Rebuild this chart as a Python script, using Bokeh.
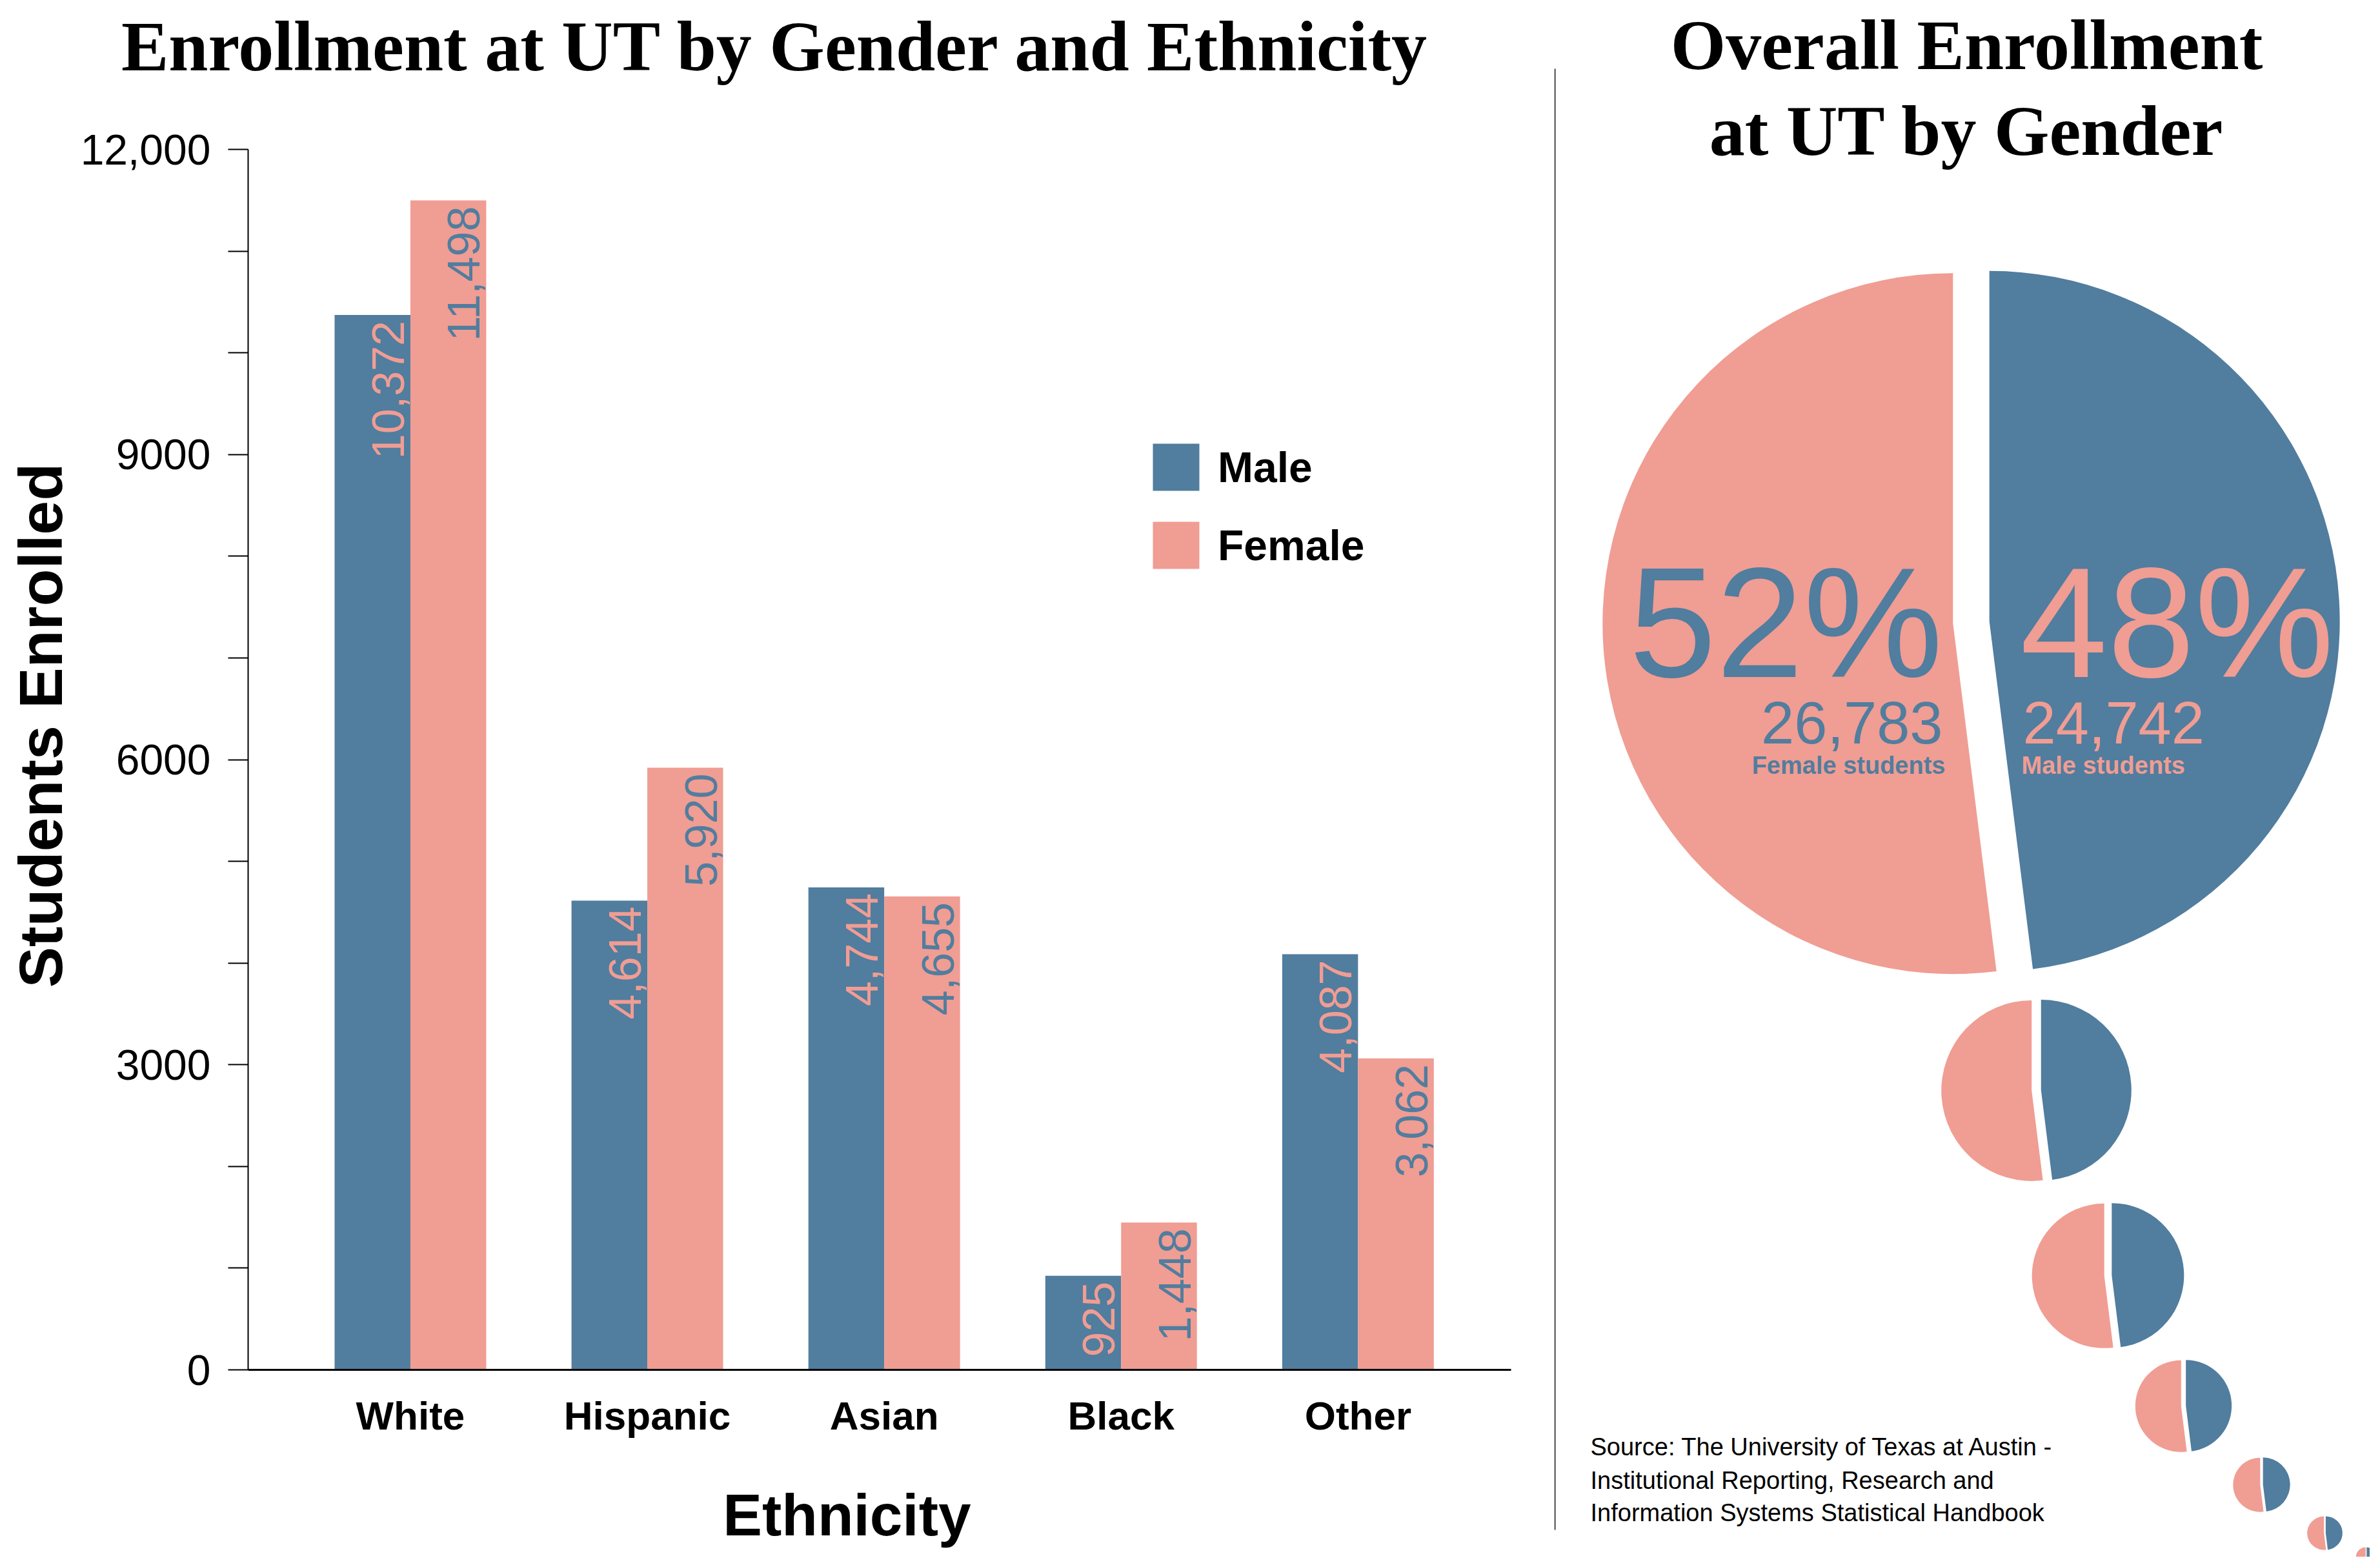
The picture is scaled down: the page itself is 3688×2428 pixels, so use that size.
import math
from bokeh.plotting import figure
from bokeh.models import (Range1d, FixedTicker, ColumnDataSource, Legend, LegendItem,
                          LabelSet)
from bokeh.layouts import row, column
from bokeh.core.properties import value
from bokeh.embed import file_html
from bokeh.resources import INLINE

# ---------------- data ----------------
ethnicities = ["White", "Hispanic", "Asian", "Black", "Other"]
male = [10372, 4614, 4744, 925, 4087]
female = [11498, 5920, 4655, 1448, 3062]
y_ticks = [0, 3000, 6000, 9000, 12000]
y_tick_labels = ["0", "3000", "6000", "9000", "12,000"]
y_minor_ticks = [1000, 2000, 4000, 5000, 7000, 8000, 10000, 11000]
genders = ["Female", "Male"]
gender_totals = [26783, 24742]
source_lines = ["Source: The University of Texas at Austin -",
                "Institutional Reporting, Research and",
                "Information Systems Statistical Handbook"]

# ---------------- style ----------------
BLUE = "#517D9E"
SALMON = "#F09D93"
SANS = value("Liberation Sans")
SERIF = value("Liberation Serif")
NBSP = "\u00a0"

LW, RW, H = 2408, 1264, 2412
T = 180            # height of the title strip above the bar chart
BW = 0.32


def blank(width, height):
    f = figure(width=width, height=height, x_range=Range1d(0, width), y_range=Range1d(0, height),
               output_backend="svg", toolbar_location=None, frame_align=False,
               x_axis_location=None, y_axis_location=None,
               min_border_left=0, min_border_right=0, min_border_top=0, min_border_bottom=0)
    f.outline_line_color = None
    f.xgrid.visible = False
    f.ygrid.visible = False
    return f


# ---------------- left title strip ----------------
tfig = blank(LW, T)
tfig.text(x=[1201], y=[T - 71], text=["Enrollment at UT by Gender and Ethnicity"],
          text_align="center", text_baseline="alphabetic", text_font=SERIF,
          text_font_style="bold", text_font_size="110px", text_color="black")

# ---------------- bar chart ----------------
idx = list(range(len(ethnicities)))
src = ColumnDataSource(dict(
    x_m=[i - BW / 2 for i in idx],
    x_f=[i + BW / 2 for i in idx],
    edge_m=[i for i in idx],
    edge_f=[i + BW for i in idx],
    male=male, female=female,
    male_lbl=[f"{v:,}" for v in male],
    female_lbl=[f"{v:,}" for v in female],
))

p = figure(width=LW, height=H - T, x_range=Range1d(-0.685, 4.646), y_range=Range1d(0, 12000),
           output_backend="svg", toolbar_location=None, frame_align=False,
           min_border_left=384, min_border_right=67, min_border_top=231 - T,
           min_border_bottom=290)
p.outline_line_color = None
p.xgrid.visible = False
p.ygrid.visible = False

rm = p.vbar(x="x_m", top="male", width=BW, source=src, fill_color=BLUE, line_color=None)
rf = p.vbar(x="x_f", top="female", width=BW, source=src, fill_color=SALMON, line_color=None)

lab_m = LabelSet(x="edge_m", y="male", text="male_lbl", source=src, angle=math.pi / 2,
                 text_align="right", text_baseline="alphabetic", x_offset=-10, y_offset=-9,
                 text_color=SALMON, text_font=SANS, text_font_size="70px")
lab_f = LabelSet(x="edge_f", y="female", text="female_lbl", source=src, angle=math.pi / 2,
                 text_align="right", text_baseline="alphabetic", x_offset=-10, y_offset=-9,
                 text_color=BLUE, text_font=SANS, text_font_size="70px")
p.add_layout(lab_m)
p.add_layout(lab_f)

# y axis
ya = p.yaxis[0]
ya.ticker = FixedTicker(ticks=y_ticks, minor_ticks=y_minor_ticks)
ya.major_label_overrides = dict(zip(y_ticks, y_tick_labels))
ya.major_label_text_font = "Liberation Sans"
ya.major_label_text_font_size = "66px"
ya.major_label_text_color = "black"
ya.major_label_standoff = 27
ya.axis_line_color = "black"
ya.axis_line_width = 2
ya.major_tick_line_color = "black"
ya.major_tick_line_width = 2
ya.minor_tick_line_color = "black"
ya.minor_tick_line_width = 2
ya.major_tick_out = 31
ya.major_tick_in = 0
ya.minor_tick_out = 31
ya.minor_tick_in = 0
# leading no-break spaces nudge the centred label slightly upwards, as in the original
ya.axis_label = NBSP * 4 + "Students Enrolled"
ya.axis_label_text_font = "Liberation Sans"
ya.axis_label_text_font_size = "95px"
ya.axis_label_text_font_style = "bold"
ya.axis_label_text_color = "black"
ya.axis_label_standoff = 6

# x axis
xa = p.xaxis[0]
xa.ticker = FixedTicker(ticks=idx)
xa.major_label_overrides = {i: n for i, n in zip(idx, ethnicities)}
xa.major_label_text_font = "Liberation Sans"
xa.major_label_text_font_style = "bold"
xa.major_label_text_font_size = "62px"
xa.major_label_text_color = "black"
xa.major_label_standoff = 36
xa.major_tick_out = 0
xa.major_tick_in = 0
xa.minor_tick_out = 0
xa.minor_tick_in = 0
xa.major_tick_line_color = None
xa.minor_tick_line_color = None
xa.axis_line_color = "black"
xa.axis_line_width = 3
# trailing no-break spaces nudge the centred label slightly to the left, as in the original
xa.axis_label = "Ethnicity" + NBSP * 4
xa.axis_label_text_font = "Liberation Sans"
xa.axis_label_text_font_size = "91px"
xa.axis_label_text_font_style = "bold"
xa.axis_label_text_color = "black"
xa.axis_label_standoff = 66

legend = Legend(items=[LegendItem(label="Male", renderers=[rm]),
                       LegendItem(label="Female", renderers=[rf])],
                location=(1393, 1232), orientation="vertical",
                glyph_width=90, glyph_height=91, label_height=91, spacing=30,
                label_standoff=20, padding=0, margin=0,
                border_line_color=None, background_fill_alpha=0,
                label_text_font="Liberation Sans", label_text_font_style="bold",
                label_text_font_size="66px", label_text_color="black")
p.add_layout(legend)

# ---------------- pie panel ----------------
q = blank(RW, H)

# divider
q.segment(x0=[1], y0=[42], x1=[1], y1=[2306], line_color="#333333", line_width=2)

total = sum(gender_totals)
shares = {g: v / total for g, v in zip(genders, gender_totals)}
male_start = math.pi / 2 - 2 * math.pi * shares["Male"]
wedge_def = {
    "Male": (male_start, math.pi / 2, BLUE),
    "Female": (math.pi / 2, math.pi / 2 + 2 * math.pi * shares["Female"], SALMON),
}

# pie layout (centre x, centre y, radius) - decorative positions
pie_layout = [(646, 1448, 543), (747, 723, 140), (858, 436, 112), (975, 234, 71),
              (1096, 112, 42), (1194, 37, 26), (1258, 0, 15)]
EXPLODE = 0.052

wx, wy, wr, ws, we, wc = [], [], [], [], [], []
for cx, cy, r in pie_layout:
    for g in genders:
        s, e, c = wedge_def[g]
        mid = (s + e) / 2
        wx.append(cx + EXPLODE * r * math.cos(mid))
        wy.append(cy + EXPLODE * r * math.sin(mid))
        wr.append(r)
        ws.append(s)
        we.append(e)
        wc.append(c)
q.wedge(x=wx, y=wy, radius=wr, start_angle=ws, end_angle=we,
        fill_color=wc, line_color=None)

bcx, bcy = 646, 1456
pct = {g: f"{round(100 * shares[g])}%" for g in genders}
cnt = {g: f"{v:,}" for g, v in zip(genders, gender_totals)}

# Female (left half) labels, right-aligned
q.text(x=[bcx - 44], y=[bcy - 8], text=[pct["Female"]], text_align="right",
       text_baseline="alphabetic", text_font=SANS, text_font_size="243px", text_color=BLUE)
q.text(x=[bcx - 44], y=[bcy - 163], text=[cnt["Female"]], text_align="right",
       text_baseline="alphabetic", text_font=SANS, text_font_size="92px", text_color=BLUE)
q.text(x=[bcx - 40], y=[bcy - 229], text=["Female students"], text_align="right",
       text_baseline="alphabetic", text_font=SANS, text_font_style="bold",
       text_font_size="38px", text_color=BLUE)
# Male (right half) labels, left-aligned
q.text(x=[bcx + 76], y=[bcy - 8], text=[pct["Male"]], text_align="left",
       text_baseline="alphabetic", text_font=SANS, text_font_size="243px", text_color=SALMON)
q.text(x=[bcx + 80], y=[bcy - 163], text=[cnt["Male"]], text_align="left",
       text_baseline="alphabetic", text_font=SANS, text_font_size="92px", text_color=SALMON)
q.text(x=[bcx + 78], y=[bcy - 229], text=["Male students"], text_align="left",
       text_baseline="alphabetic", text_font=SANS, text_font_style="bold",
       text_font_size="38px", text_color=SALMON)

# right title
q.text(x=[639, 639], y=[2343, 2210], text=["Overall Enrollment", "at UT by Gender"],
       text_align="center", text_baseline="alphabetic", text_font=SERIF,
       text_font_style="bold", text_font_size="110px", text_color="black")

# source
q.text(x=[56, 56, 56], y=[171, 119, 69], text=source_lines, text_align="left",
       text_baseline="alphabetic", text_font=SANS, text_font_size="38px", text_color="black")

layout = row(column(tfig, p, spacing=0), q, spacing=0)
open("out.html", "w").write(file_html(layout, INLINE))
